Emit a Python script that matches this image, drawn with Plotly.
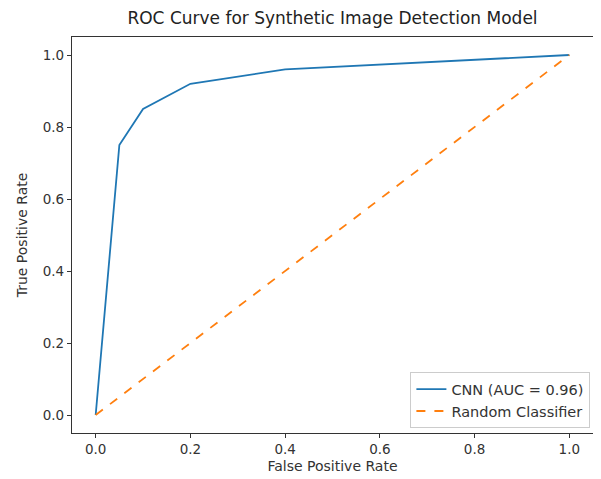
import plotly.graph_objects as go

fpr = [0.0, 0.05, 0.1, 0.2, 0.4, 1.0]
tpr = [0.0, 0.75, 0.85, 0.92, 0.96, 1.0]
rand_x = [0.0, 1.0]
rand_y = [0.0, 1.0]
x_ticks = [0.0, 0.2, 0.4, 0.6, 0.8, 1.0]
y_ticks = [0.0, 0.2, 0.4, 0.6, 0.8, 1.0]
tick_text = ["0.0", "0.2", "0.4", "0.6", "0.8", "1.0"]

fig = go.Figure()
fig.add_trace(go.Scatter(x=fpr, y=tpr, mode="lines", name="CNN (AUC = 0.96)",
                         line=dict(color="#1f77b4", width=1.8)))
fig.add_trace(go.Scatter(x=rand_x, y=rand_y, mode="lines", name="Random Classifier",
                         line=dict(color="#ff7f0e", width=1.8, dash="dash")))

axis_common = dict(showgrid=False, zeroline=False, showline=True, mirror=True,
                   linecolor="#333333", linewidth=1.2, ticks="outside", ticklen=4,
                   tickcolor="#333333", tickfont=dict(size=13.5, color="#333333"),
                   title_font=dict(size=14, color="#333333"), automargin=False)

fig.update_layout(
    width=593, height=471,
    paper_bgcolor="white", plot_bgcolor="white",
    font=dict(family="DejaVu Sans", color="#333333"),
    margin=dict(l=64, r=8, t=29, b=46),
    title=dict(text="ROC Curve for Synthetic Image Detection Model",
               x=0.5, xanchor="center", xref="paper", y=0.979, yanchor="middle",
               font=dict(size=17, color="#222222"), automargin=False),
    xaxis=dict(range=[-0.05, 1.05], tickvals=x_ticks, ticktext=tick_text,
               title=dict(text="False Positive Rate", standoff=4), **axis_common),
    yaxis=dict(range=[-0.05, 1.05], tickvals=y_ticks, ticktext=tick_text,
               title=dict(text="True Positive Rate", standoff=11), **axis_common),
    legend=dict(x=0.995, y=0.012, xanchor="right", yanchor="bottom",
                bgcolor="rgba(255,255,255,0.8)", bordercolor="#cccccc", borderwidth=1,
                font=dict(size=14.5, color="#333333"), itemwidth=30, tracegroupgap=0),
    showlegend=True,
)

fig.write_html("out.html")
